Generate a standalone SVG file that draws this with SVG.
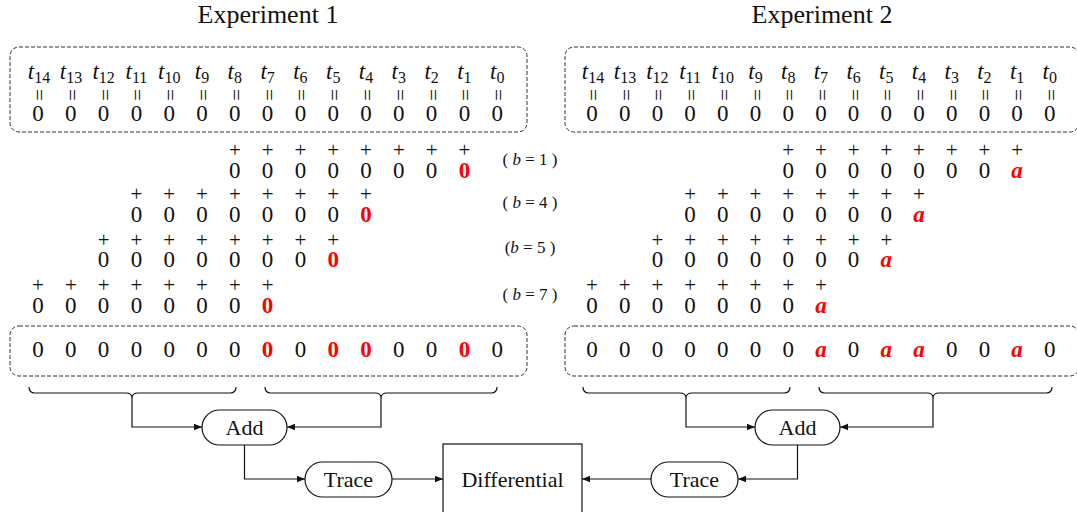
<svg xmlns="http://www.w3.org/2000/svg" width="1077" height="512" viewBox="0 0 1077 512">
<style>
text{font-family:"Liberation Serif","Times New Roman",serif;fill:#111;text-anchor:middle}
.t{font-size:23px;font-style:italic}
.sub{font-size:16px;font-style:normal}
.d{font-size:23px}
.p{font-size:21px}
.eq{font-size:21px}
.r{fill:#f00;font-weight:bold}
.ra{fill:#f00;font-weight:bold;font-style:italic}
.lbl{font-size:17px}
.title{font-size:26px}
.node{font-size:22px}
.box{fill:none;stroke:#333;stroke-width:1;stroke-dasharray:4 2}
.ln{fill:none;stroke:#111;stroke-width:1.2}
.nd{fill:#fff;stroke:#111;stroke-width:1.2}
</style>
<defs>
<marker id="ah" viewBox="0 0 10 10" refX="10" refY="5" markerWidth="8" markerHeight="8" markerUnits="userSpaceOnUse" orient="auto">
<path d="M0,1 L10,5 L0,9 z" fill="#111"/>
</marker>
</defs>

<text class="title" x="268" y="23">Experiment 1</text>
<text class="title" x="822" y="23">Experiment 2</text>

<g id="exp1-top">
<rect class="box" x="10" y="47" width="517" height="85" rx="9"/>
<text class="t" y="79"><tspan x="39">t</tspan><tspan class="sub" dy="4">14</tspan></text>
<text class="t" y="79"><tspan x="71">t</tspan><tspan class="sub" dy="4">13</tspan></text>
<text class="t" y="79"><tspan x="103.6">t</tspan><tspan class="sub" dy="4">12</tspan></text>
<text class="t" y="79"><tspan x="136.4">t</tspan><tspan class="sub" dy="4">11</tspan></text>
<text class="t" y="79"><tspan x="169.2">t</tspan><tspan class="sub" dy="4">10</tspan></text>
<text class="t" y="79"><tspan x="202">t</tspan><tspan class="sub" dy="4">9</tspan></text>
<text class="t" y="79"><tspan x="234.8">t</tspan><tspan class="sub" dy="4">8</tspan></text>
<text class="t" y="79"><tspan x="267.6">t</tspan><tspan class="sub" dy="4">7</tspan></text>
<text class="t" y="79"><tspan x="300.4">t</tspan><tspan class="sub" dy="4">6</tspan></text>
<text class="t" y="79"><tspan x="333.2">t</tspan><tspan class="sub" dy="4">5</tspan></text>
<text class="t" y="79"><tspan x="366">t</tspan><tspan class="sub" dy="4">4</tspan></text>
<text class="t" y="79"><tspan x="398.8">t</tspan><tspan class="sub" dy="4">3</tspan></text>
<text class="t" y="79"><tspan x="431.6">t</tspan><tspan class="sub" dy="4">2</tspan></text>
<text class="t" y="79"><tspan x="464.4">t</tspan><tspan class="sub" dy="4">1</tspan></text>
<text class="t" y="79"><tspan x="497.2">t</tspan><tspan class="sub" dy="4">0</tspan></text>
<g>
<text class="eq" x="38" y="95" transform="rotate(90 38 95)" dy="6">=</text>
<text class="eq" x="70.8" y="95" transform="rotate(90 70.8 95)" dy="6">=</text>
<text class="eq" x="103.6" y="95" transform="rotate(90 103.6 95)" dy="6">=</text>
<text class="eq" x="136.4" y="95" transform="rotate(90 136.4 95)" dy="6">=</text>
<text class="eq" x="169.2" y="95" transform="rotate(90 169.2 95)" dy="6">=</text>
<text class="eq" x="202" y="95" transform="rotate(90 202 95)" dy="6">=</text>
<text class="eq" x="234.8" y="95" transform="rotate(90 234.8 95)" dy="6">=</text>
<text class="eq" x="267.6" y="95" transform="rotate(90 267.6 95)" dy="6">=</text>
<text class="eq" x="300.4" y="95" transform="rotate(90 300.4 95)" dy="6">=</text>
<text class="eq" x="333.2" y="95" transform="rotate(90 333.2 95)" dy="6">=</text>
<text class="eq" x="366" y="95" transform="rotate(90 366 95)" dy="6">=</text>
<text class="eq" x="398.8" y="95" transform="rotate(90 398.8 95)" dy="6">=</text>
<text class="eq" x="431.6" y="95" transform="rotate(90 431.6 95)" dy="6">=</text>
<text class="eq" x="464.4" y="95" transform="rotate(90 464.4 95)" dy="6">=</text>
<text class="eq" x="497.2" y="95" transform="rotate(90 497.2 95)" dy="6">=</text>
</g>
<text class="d" y="121"><tspan x="38">0</tspan><tspan x="70.8">0</tspan><tspan x="103.6">0</tspan><tspan x="136.4">0</tspan><tspan x="169.2">0</tspan><tspan x="202">0</tspan><tspan x="234.8">0</tspan><tspan x="267.6">0</tspan><tspan x="300.4">0</tspan><tspan x="333.2">0</tspan><tspan x="366">0</tspan><tspan x="398.8">0</tspan><tspan x="431.6">0</tspan><tspan x="464.4">0</tspan><tspan x="497.2">0</tspan></text>
</g>

<g id="exp1-rows">
<text class="p" y="157"><tspan x="234.8">+</tspan><tspan x="267.6">+</tspan><tspan x="300.4">+</tspan><tspan x="333.2">+</tspan><tspan x="366">+</tspan><tspan x="398.8">+</tspan><tspan x="431.6">+</tspan><tspan x="464.4">+</tspan></text>
<text class="d" y="178"><tspan x="234.8">0</tspan><tspan x="267.6">0</tspan><tspan x="300.4">0</tspan><tspan x="333.2">0</tspan><tspan x="366">0</tspan><tspan x="398.8">0</tspan><tspan x="431.6">0</tspan></text>
<text class="d r" x="464.4" y="178">0</text>

<text class="p" y="201"><tspan x="136.4">+</tspan><tspan x="169.2">+</tspan><tspan x="202">+</tspan><tspan x="234.8">+</tspan><tspan x="267.6">+</tspan><tspan x="300.4">+</tspan><tspan x="333.2">+</tspan><tspan x="366">+</tspan></text>
<text class="d" y="222"><tspan x="136.4">0</tspan><tspan x="169.2">0</tspan><tspan x="202">0</tspan><tspan x="234.8">0</tspan><tspan x="267.6">0</tspan><tspan x="300.4">0</tspan><tspan x="333.2">0</tspan></text>
<text class="d r" x="366" y="222">0</text>

<text class="p" y="247"><tspan x="103.6">+</tspan><tspan x="136.4">+</tspan><tspan x="169.2">+</tspan><tspan x="202">+</tspan><tspan x="234.8">+</tspan><tspan x="267.6">+</tspan><tspan x="300.4">+</tspan><tspan x="333.2">+</tspan></text>
<text class="d" y="267"><tspan x="103.6">0</tspan><tspan x="136.4">0</tspan><tspan x="169.2">0</tspan><tspan x="202">0</tspan><tspan x="234.8">0</tspan><tspan x="267.6">0</tspan><tspan x="300.4">0</tspan></text>
<text class="d r" x="333.2" y="267">0</text>

<text class="p" y="292"><tspan x="38">+</tspan><tspan x="70.8">+</tspan><tspan x="103.6">+</tspan><tspan x="136.4">+</tspan><tspan x="169.2">+</tspan><tspan x="202">+</tspan><tspan x="234.8">+</tspan><tspan x="267.6">+</tspan></text>
<text class="d" y="313"><tspan x="38">0</tspan><tspan x="70.8">0</tspan><tspan x="103.6">0</tspan><tspan x="136.4">0</tspan><tspan x="169.2">0</tspan><tspan x="202">0</tspan><tspan x="234.8">0</tspan></text>
<text class="d r" x="267.6" y="313">0</text>
</g>

<g id="b-labels">
<text class="lbl" x="530" y="165">( <tspan font-style="italic">b</tspan> = 1 )</text>
<text class="lbl" x="530" y="208">( <tspan font-style="italic">b</tspan> = 4 )</text>
<text class="lbl" x="530" y="253">(<tspan font-style="italic">b</tspan> = 5 )</text>
<text class="lbl" x="530" y="300">( <tspan font-style="italic">b</tspan> = 7 )</text>
</g>

<g id="exp1-sum">
<rect class="box" x="10" y="326" width="517" height="50" rx="9"/>
<text class="d" y="357"><tspan x="38">0</tspan><tspan x="70.8">0</tspan><tspan x="103.6">0</tspan><tspan x="136.4">0</tspan><tspan x="169.2">0</tspan><tspan x="202">0</tspan><tspan x="234.8">0</tspan><tspan x="300.4">0</tspan><tspan x="398.8">0</tspan><tspan x="431.6">0</tspan><tspan x="497.2">0</tspan></text>
<text class="d r" y="357"><tspan x="267.6">0</tspan><tspan x="333.2">0</tspan><tspan x="366">0</tspan><tspan x="464.4">0</tspan></text>
</g>

<g id="exp2-top">
<rect class="box" x="565" y="47" width="514" height="85" rx="9"/>
<text class="t" y="79"><tspan x="593">t</tspan><tspan class="sub" dy="4">14</tspan></text>
<text class="t" y="79"><tspan x="625">t</tspan><tspan class="sub" dy="4">13</tspan></text>
<text class="t" y="79"><tspan x="657.4">t</tspan><tspan class="sub" dy="4">12</tspan></text>
<text class="t" y="79"><tspan x="690.1">t</tspan><tspan class="sub" dy="4">11</tspan></text>
<text class="t" y="79"><tspan x="722.8">t</tspan><tspan class="sub" dy="4">10</tspan></text>
<text class="t" y="79"><tspan x="755.5">t</tspan><tspan class="sub" dy="4">9</tspan></text>
<text class="t" y="79"><tspan x="788.2">t</tspan><tspan class="sub" dy="4">8</tspan></text>
<text class="t" y="79"><tspan x="820.9">t</tspan><tspan class="sub" dy="4">7</tspan></text>
<text class="t" y="79"><tspan x="853.6">t</tspan><tspan class="sub" dy="4">6</tspan></text>
<text class="t" y="79"><tspan x="886.3">t</tspan><tspan class="sub" dy="4">5</tspan></text>
<text class="t" y="79"><tspan x="919">t</tspan><tspan class="sub" dy="4">4</tspan></text>
<text class="t" y="79"><tspan x="951.7">t</tspan><tspan class="sub" dy="4">3</tspan></text>
<text class="t" y="79"><tspan x="984.4">t</tspan><tspan class="sub" dy="4">2</tspan></text>
<text class="t" y="79"><tspan x="1017.1">t</tspan><tspan class="sub" dy="4">1</tspan></text>
<text class="t" y="79"><tspan x="1049.8">t</tspan><tspan class="sub" dy="4">0</tspan></text>
<g>
<text class="eq" x="592" y="95" transform="rotate(90 592 95)" dy="6">=</text>
<text class="eq" x="624.7" y="95" transform="rotate(90 624.7 95)" dy="6">=</text>
<text class="eq" x="657.4" y="95" transform="rotate(90 657.4 95)" dy="6">=</text>
<text class="eq" x="690.1" y="95" transform="rotate(90 690.1 95)" dy="6">=</text>
<text class="eq" x="722.8" y="95" transform="rotate(90 722.8 95)" dy="6">=</text>
<text class="eq" x="755.5" y="95" transform="rotate(90 755.5 95)" dy="6">=</text>
<text class="eq" x="788.2" y="95" transform="rotate(90 788.2 95)" dy="6">=</text>
<text class="eq" x="820.9" y="95" transform="rotate(90 820.9 95)" dy="6">=</text>
<text class="eq" x="853.6" y="95" transform="rotate(90 853.6 95)" dy="6">=</text>
<text class="eq" x="886.3" y="95" transform="rotate(90 886.3 95)" dy="6">=</text>
<text class="eq" x="919" y="95" transform="rotate(90 919 95)" dy="6">=</text>
<text class="eq" x="951.7" y="95" transform="rotate(90 951.7 95)" dy="6">=</text>
<text class="eq" x="984.4" y="95" transform="rotate(90 984.4 95)" dy="6">=</text>
<text class="eq" x="1017.1" y="95" transform="rotate(90 1017.1 95)" dy="6">=</text>
<text class="eq" x="1049.8" y="95" transform="rotate(90 1049.8 95)" dy="6">=</text>
</g>
<text class="d" y="121"><tspan x="592">0</tspan><tspan x="624.7">0</tspan><tspan x="657.4">0</tspan><tspan x="690.1">0</tspan><tspan x="722.8">0</tspan><tspan x="755.5">0</tspan><tspan x="788.2">0</tspan><tspan x="820.9">0</tspan><tspan x="853.6">0</tspan><tspan x="886.3">0</tspan><tspan x="919">0</tspan><tspan x="951.7">0</tspan><tspan x="984.4">0</tspan><tspan x="1017.1">0</tspan><tspan x="1049.8">0</tspan></text>
</g>

<g id="exp2-rows">
<text class="p" y="157"><tspan x="788.2">+</tspan><tspan x="820.9">+</tspan><tspan x="853.6">+</tspan><tspan x="886.3">+</tspan><tspan x="919">+</tspan><tspan x="951.7">+</tspan><tspan x="984.4">+</tspan><tspan x="1017.1">+</tspan></text>
<text class="d" y="178"><tspan x="788.2">0</tspan><tspan x="820.9">0</tspan><tspan x="853.6">0</tspan><tspan x="886.3">0</tspan><tspan x="919">0</tspan><tspan x="951.7">0</tspan><tspan x="984.4">0</tspan></text>
<text class="d ra" x="1017.1" y="178">a</text>

<text class="p" y="201"><tspan x="690.1">+</tspan><tspan x="722.8">+</tspan><tspan x="755.5">+</tspan><tspan x="788.2">+</tspan><tspan x="820.9">+</tspan><tspan x="853.6">+</tspan><tspan x="886.3">+</tspan><tspan x="919">+</tspan></text>
<text class="d" y="222"><tspan x="690.1">0</tspan><tspan x="722.8">0</tspan><tspan x="755.5">0</tspan><tspan x="788.2">0</tspan><tspan x="820.9">0</tspan><tspan x="853.6">0</tspan><tspan x="886.3">0</tspan></text>
<text class="d ra" x="919" y="222">a</text>

<text class="p" y="247"><tspan x="657.4">+</tspan><tspan x="690.1">+</tspan><tspan x="722.8">+</tspan><tspan x="755.5">+</tspan><tspan x="788.2">+</tspan><tspan x="820.9">+</tspan><tspan x="853.6">+</tspan><tspan x="886.3">+</tspan></text>
<text class="d" y="267"><tspan x="657.4">0</tspan><tspan x="690.1">0</tspan><tspan x="722.8">0</tspan><tspan x="755.5">0</tspan><tspan x="788.2">0</tspan><tspan x="820.9">0</tspan><tspan x="853.6">0</tspan></text>
<text class="d ra" x="886.3" y="267">a</text>

<text class="p" y="292"><tspan x="592">+</tspan><tspan x="624.7">+</tspan><tspan x="657.4">+</tspan><tspan x="690.1">+</tspan><tspan x="722.8">+</tspan><tspan x="755.5">+</tspan><tspan x="788.2">+</tspan><tspan x="820.9">+</tspan></text>
<text class="d" y="313"><tspan x="592">0</tspan><tspan x="624.7">0</tspan><tspan x="657.4">0</tspan><tspan x="690.1">0</tspan><tspan x="722.8">0</tspan><tspan x="755.5">0</tspan><tspan x="788.2">0</tspan></text>
<text class="d ra" x="820.9" y="313">a</text>
</g>

<g id="exp2-sum">
<rect class="box" x="565" y="326" width="514" height="50" rx="9"/>
<text class="d" y="357"><tspan x="592">0</tspan><tspan x="624.7">0</tspan><tspan x="657.4">0</tspan><tspan x="690.1">0</tspan><tspan x="722.8">0</tspan><tspan x="755.5">0</tspan><tspan x="788.2">0</tspan><tspan x="853.6">0</tspan><tspan x="951.7">0</tspan><tspan x="984.4">0</tspan><tspan x="1049.8">0</tspan></text>
<text class="d ra" y="357"><tspan x="820.9">a</tspan><tspan x="886.3">a</tspan><tspan x="919">a</tspan><tspan x="1017.1">a</tspan></text>
</g>

<g id="braces">
<path class="ln" d="M29,387 Q29,393 35,393 L126,393 Q132,393 132,398 Q132,393 138,393 L230,393 Q236,393 236,387"/>
<path class="ln" d="M265,387 Q265,393 271,393 L375,393 Q381,393 381,398 Q381,393 387,393 L491,393 Q497,393 497,387"/>
<path class="ln" d="M583,387 Q583,393 589,393 L680,393 Q686,393 686,398 Q686,393 692,393 L784,393 Q790,393 790,387"/>
<path class="ln" d="M819,387 Q819,393 825,393 L927,393 Q933,393 933,398 Q933,393 939,393 L1046,393 Q1052,393 1052,387"/>
</g>

<g id="add1"><rect class="nd" x="202" y="410" width="85" height="35" rx="17.5"/><text class="node" x="244.5" y="435">Add</text></g>
<g id="trace1"><rect class="nd" x="305" y="462" width="87" height="35" rx="17.5"/><text class="node" x="348.5" y="487">Trace</text></g>
<g id="add2"><rect class="nd" x="755" y="410" width="85" height="35" rx="17.5"/><text class="node" x="797.5" y="435">Add</text></g>
<g id="trace2"><rect class="nd" x="651" y="462" width="87" height="35" rx="17.5"/><text class="node" x="694.5" y="487">Trace</text></g>
<g id="differential"><rect class="nd" x="443" y="444" width="139" height="80"/><text class="node" x="512.5" y="487">Differential</text></g>

<g id="connectors">
<path class="ln" d="M132,398 L132,427 L202,427" marker-end="url(#ah)"/>
<path class="ln" d="M381,398 L381,427 L287,427" marker-end="url(#ah)"/>
<path class="ln" d="M244.5,445 L244.5,479 L305,479" marker-end="url(#ah)"/>
<path class="ln" d="M392,479 L443,479" marker-end="url(#ah)"/>
<path class="ln" d="M686,398 L686,427 L755,427" marker-end="url(#ah)"/>
<path class="ln" d="M933,398 L933,427 L840,427" marker-end="url(#ah)"/>
<path class="ln" d="M797.5,445 L797.5,479 L738,479" marker-end="url(#ah)"/>
<path class="ln" d="M651,479 L582,479" marker-end="url(#ah)"/>
</g>
</svg>
